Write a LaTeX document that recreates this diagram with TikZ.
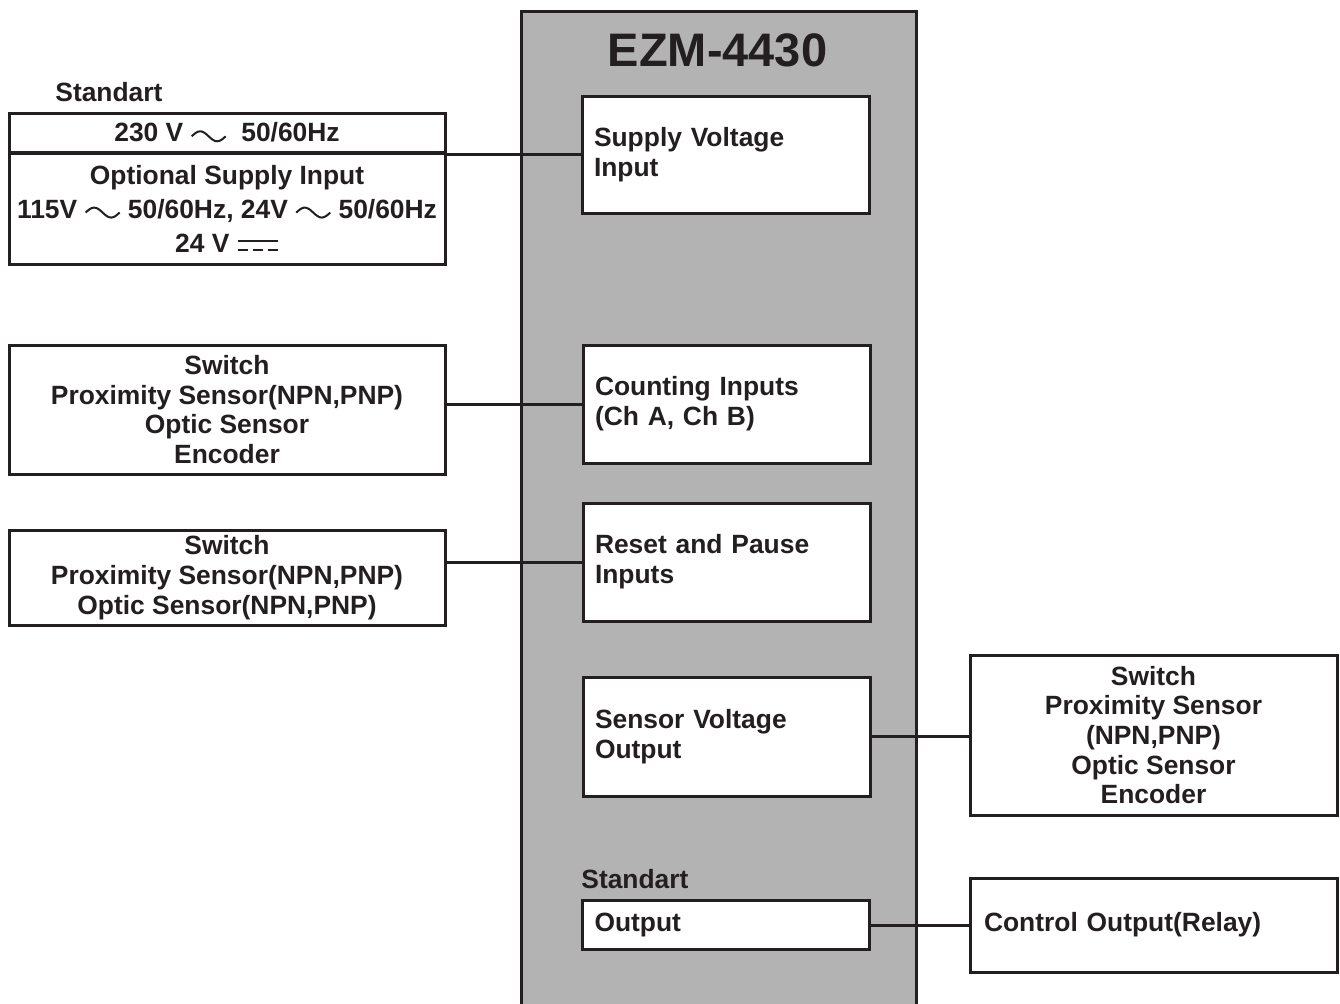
\documentclass[tikz,border=0pt]{standalone}
\usepackage{fontspec}
\setmainfont{Liberation Sans}
\usepackage{xcolor}
\usepackage{tikz}
\definecolor{ink}{RGB}{35,31,32}
\definecolor{casegray}{RGB}{179,179,179}
\newcommand{\acwave}{\tikz[baseline=0pt, x=1pt, y=1pt, line width=1pt, ink]
  \draw (0,2.75) sin (4.25,5.25) cos (8.5,2.75) sin (12.75,0.25) cos (17,2.75);}
\newcommand{\dcline}{\tikz[baseline=0pt, x=1pt, y=1pt, line width=1pt, ink]
  {\draw (0,5.5) -- (20,5.5); \draw[dash pattern=on 5pt off 2.5pt] (0,1) -- (20,1);}}
\tikzset{lbl/.style={font=\fontsize{13.2pt}{14.85pt}\selectfont\bfseries, text=ink, inner sep=0pt}}
\tikzset{unitbox/.style={lbl, draw=ink, fill=white, line width=1.5pt, minimum width=143.5pt,
  text width=131.5pt, inner xsep=6pt, align=left}}
\tikzset{extbox/.style={lbl, draw=ink, fill=white, line width=1.5pt, minimum width=218pt, align=center}}
\tikzset{wire/.style={draw=ink, line width=1.5pt}}

\begin{document}
\begin{tikzpicture}[x=0.5pt, y=-0.5pt]
\useasboundingbox (0,0) rectangle (1340,1003);

\node [draw=ink, fill=casegray, line width=1.5pt, minimum width=197.5pt, minimum height=500pt, inner sep=0pt] (ezm) at (718.5,511) {};
\node [lbl, font=\fontsize{23.5pt}{28pt}\selectfont\bfseries] (title) at (717.5,50) {EZM-4430};

\node [unitbox, minimum height=58.5pt] (supply) at (725.5,154.5) {Supply Voltage\\Input};
\node [unitbox, minimum height=59pt] (count) at (726.5,404) {Counting Inputs\\(Ch A, Ch B)};
\node [unitbox, minimum height=59pt] (reset) at (726.5,562) {Reset and Pause\\Inputs};
\node [unitbox, minimum height=59.5pt] (sensv) at (726.5,736.5) {Sensor Voltage\\Output};
\node [lbl, anchor=base west] (stdout) at (581,888) {Standart};
\node [unitbox, minimum height=24.5pt] (out) at (726,925) {Output};

\node [lbl, anchor=base west] (stdin) at (55,101) {Standart};
\node [extbox, minimum height=19.5pt] (std) at (227,132.5) {230 V \acwave{}~~50/60Hz};
\node [extbox, minimum height=55.5pt, font=\fontsize{13.2pt}{17pt}\selectfont\bfseries] (opt) at (227,208.5)
  {Optional Supply Input\\115V \acwave{} 50/60Hz, 24V \acwave{} 50/60Hz\\24 V \dcline};

\node [extbox, minimum height=64.5pt] (cnt) at (227,409.5) {Switch\\Proximity Sensor(NPN,PNP)\\Optic Sensor\\Encoder};
\node [extbox, minimum height=47.5pt] (rst) at (227,577.5) {Switch\\Proximity Sensor(NPN,PNP)\\Optic Sensor(NPN,PNP)};

\node [extbox, minimum width=183.5pt, minimum height=80pt] (load) at (1153.5,735) {Switch\\Proximity Sensor\\(NPN,PNP)\\Optic Sensor\\Encoder};
\node [unitbox, minimum width=183.5pt, text width=169.5pt, inner xsep=7pt, minimum height=47pt] (relay) at (1153.5,925) {Control Output(Relay)};

\draw [wire] (supply.west) -- (supply.west -| opt.east);
\draw [wire] (count.west) -- (count.west -| cnt.east);
\draw [wire] (reset.west) -- (reset.west -| rst.east);
\draw [wire] (sensv.east) -- (sensv.east -| load.west);
\draw [wire] (out.east) -- (out.east -| relay.west);

\end{tikzpicture}
\end{document}
